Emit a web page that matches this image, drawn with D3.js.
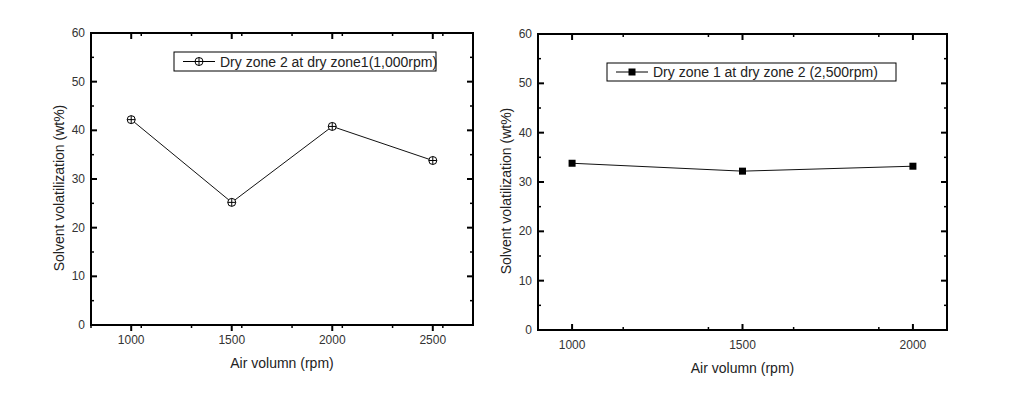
<!DOCTYPE html>
<html>
<head>
<meta charset="utf-8">
<script src="https://cdn.jsdelivr.net/npm/d3@7"></script>
<style>
  body { margin: 0; background: #fff; }
  text { font-family: "Liberation Sans", Arial, sans-serif; fill: #222; }
</style>
</head>
<body>
<svg id="chart" width="1035" height="419"></svg>
<script>
// data
const left_x = [1000, 1500, 2000, 2500];
const left_y = [42.2, 25.2, 40.8, 33.8];
const left_label = "Dry zone 2 at dry zone1(1,000rpm)";
const right_x = [1000, 1500, 2000];
const right_y = [33.8, 32.2, 33.2];
const right_label = "Dry zone 1 at dry zone 2 (2,500rpm)";
const y_ticks = [0, 10, 20, 30, 40, 50, 60];

const svg = d3.select("#chart");

function drawPanel(opt) {
    const x = d3.scaleLinear().domain(opt.xdom).range([opt.left, opt.right]);
    const y = d3.scaleLinear().domain([0, 60]).range([opt.bottom, opt.top]);
    const g = svg.append("g");

    // minor ticks, x and y
    const x_minor = d3.range(opt.xdom[0], opt.xdom[1] + 1, 250).filter(v => v % 500 !== 0);
    const y_minor = d3.range(5, 60, 10);
    const bdir = opt.bottomOut ? 1 : -1;

    // bottom + top ticks
    opt.xticks.forEach(v => {
        g.append("line").attr("x1", x(v)).attr("x2", x(v))
            .attr("y1", opt.bottom).attr("y2", opt.bottom + bdir * 6)
            .attr("stroke", "#000").attr("stroke-width", 2);
        g.append("line").attr("x1", x(v)).attr("x2", x(v))
            .attr("y1", opt.top).attr("y2", opt.top + 6)
            .attr("stroke", "#000").attr("stroke-width", 2);
        g.append("text").attr("x", x(v)).attr("y", opt.bottom + 19)
            .attr("text-anchor", "middle").attr("font-size", 12)
            .style("fill", "#333").text(v);
    });
    x_minor.forEach(v => {
        g.append("line").attr("x1", x(v)).attr("x2", x(v))
            .attr("y1", opt.bottom).attr("y2", opt.bottom + bdir * 3)
            .attr("stroke", "#000").attr("stroke-width", 1.5);
        g.append("line").attr("x1", x(v)).attr("x2", x(v))
            .attr("y1", opt.top).attr("y2", opt.top + 3)
            .attr("stroke", "#000").attr("stroke-width", 1.5);
    });
    y_ticks.forEach(v => {
        g.append("line").attr("x1", opt.left).attr("x2", opt.left + 6)
            .attr("y1", y(v)).attr("y2", y(v)).attr("stroke", "#000").attr("stroke-width", 2);
        g.append("line").attr("x1", opt.right).attr("x2", opt.right - 6)
            .attr("y1", y(v)).attr("y2", y(v)).attr("stroke", "#000").attr("stroke-width", 2);
        g.append("text").attr("x", opt.left - 6).attr("y", y(v) + 4)
            .attr("text-anchor", "end").attr("font-size", 12)
            .style("fill", "#333").text(v);
    });
    y_minor.forEach(v => {
        g.append("line").attr("x1", opt.left).attr("x2", opt.left + 3)
            .attr("y1", y(v)).attr("y2", y(v)).attr("stroke", "#000").attr("stroke-width", 1.5);
        g.append("line").attr("x1", opt.right).attr("x2", opt.right - 3)
            .attr("y1", y(v)).attr("y2", y(v)).attr("stroke", "#000").attr("stroke-width", 1.5);
    });

    // frame
    g.append("rect").attr("x", opt.left).attr("y", opt.top)
        .attr("width", opt.right - opt.left).attr("height", opt.bottom - opt.top)
        .attr("fill", "none").attr("stroke", "#000").attr("stroke-width", 2);

    // axis titles
    g.append("text").attr("x", (opt.left + opt.right) / 2).attr("y", opt.bottom + 43)
        .attr("text-anchor", "middle").attr("font-size", 14).text("Air volumn (rpm)");
    g.append("text")
        .attr("transform", `translate(${opt.left - 27},${(opt.top + opt.bottom) / 2 + 9}) rotate(-90)`)
        .attr("text-anchor", "middle").attr("font-size", 14).text("Solvent volatilization (wt%)");

    // series
    const pts = opt.xs.map((v, i) => [v, opt.ys[i]]);
    const line = d3.line().x(d => x(d[0])).y(d => y(d[1]));
    g.append("path").attr("d", line(pts)).attr("fill", "none")
        .attr("stroke", "#111").attr("stroke-width", 1);
    pts.forEach(d => opt.marker(g, x(d[0]), y(d[1])));

    // legend
    const L = opt.legend;
    g.append("rect").attr("x", L.x).attr("y", L.y).attr("width", L.w).attr("height", L.h)
        .attr("fill", "#fff").attr("stroke", "#000").attr("stroke-width", 1);
    g.append("line").attr("x1", L.x + 9).attr("x2", L.x + 41)
        .attr("y1", L.y + L.h / 2).attr("y2", L.y + L.h / 2).attr("stroke", "#000");
    opt.marker(g, L.x + 25, L.y + L.h / 2);
    g.append("text").attr("x", L.x + 46).attr("y", L.y + L.h / 2 + 5)
        .attr("font-size", 14).text(opt.label);
}

function circlePlus(g, cx, cy) {
    g.append("circle").attr("cx", cx).attr("cy", cy).attr("r", 4)
        .attr("fill", "#fff").attr("stroke", "#000").attr("stroke-width", 1);
    g.append("path").attr("d", `M${cx - 4},${cy}H${cx + 4}M${cx},${cy - 4}V${cy + 4}`)
        .attr("stroke", "#000").attr("stroke-width", 1);
}

function square(g, cx, cy) {
    g.append("rect").attr("x", cx - 3.5).attr("y", cy - 3.5).attr("width", 7).attr("height", 7)
        .attr("fill", "#000");
}

drawPanel({
    xdom: [800, 2700], xticks: [1000, 1500, 2000, 2500],
    left: 91, right: 473, top: 33, bottom: 325, bottomOut: true,
    xs: left_x, ys: left_y, marker: circlePlus, label: left_label,
    legend: {x: 174, y: 52, w: 262, h: 19}
});

drawPanel({
    xdom: [900, 2100], xticks: [1000, 1500, 2000],
    left: 538, right: 947, top: 34, bottom: 330, bottomOut: false,
    xs: right_x, ys: right_y, marker: square, label: right_label,
    legend: {x: 607, y: 63, w: 289, h: 18}
});
</script>
</body>
</html>
